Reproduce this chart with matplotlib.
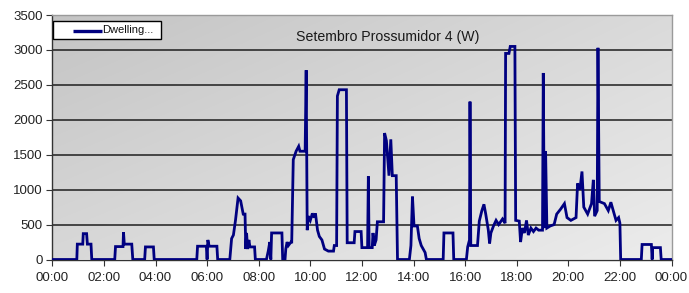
import numpy as np
import matplotlib
matplotlib.use("Agg")
import matplotlib.pyplot as plt
from matplotlib.patches import Rectangle

# ---- data (hours of day, watts) ----
hours = [0.0, 0.95, 0.97, 1.18, 1.2, 1.33, 1.36, 1.5, 1.53, 2.42, 2.45, 2.74, 2.76, 2.79, 3.08, 3.12,
         3.58, 3.61, 3.92, 3.95, 5.6, 5.63, 5.97, 6.0, 6.03, 6.08, 6.38, 6.41, 6.88, 6.95, 7.02, 7.1,
         7.2, 7.3, 7.4, 7.47, 7.5, 7.53, 7.57, 7.62, 7.66, 7.84, 7.87, 8.3, 8.37, 8.43, 8.47, 8.5,
         8.9, 8.93, 9.02, 9.05, 9.1, 9.15, 9.25, 9.28, 9.34, 9.45, 9.55, 9.6, 9.8, 9.84, 9.88, 9.92,
         10.0, 10.08, 10.15, 10.2, 10.28, 10.35, 10.45, 10.55, 10.7, 10.9, 10.93, 11.02, 11.05, 11.12,
         11.4, 11.43, 11.7, 11.73, 11.97, 12.0, 12.22, 12.25, 12.28, 12.4, 12.43, 12.48, 12.55, 12.6,
         12.84, 12.88, 12.95, 13.0, 13.05, 13.12, 13.18, 13.33, 13.38, 13.84, 13.9, 13.96, 14.02, 14.15,
         14.22, 14.3, 14.45, 14.5, 15.15, 15.18, 15.53, 15.56, 16.05, 16.1, 16.17, 16.19, 16.22, 16.48,
         16.55, 16.65, 16.73, 16.8, 16.9, 16.95, 17.0, 17.1, 17.2, 17.3, 17.45, 17.55, 17.57, 17.7,
         17.75, 17.93, 17.96, 18.1, 18.15, 18.22, 18.3, 18.38, 18.45, 18.55, 18.65, 18.75, 18.85, 19.0,
         19.03, 19.07, 19.12, 19.17, 19.3, 19.45, 19.55, 19.7, 19.85, 19.95, 20.1, 20.3, 20.36, 20.45,
         20.53, 20.6, 20.75, 20.9, 20.97, 21.02, 21.12, 21.15, 21.2, 21.4, 21.55, 21.65, 21.78, 21.85,
         21.95, 22.0, 22.03, 22.83, 22.86, 23.22, 23.25, 23.27, 23.57, 23.6, 24.0]
watts = [0, 0, 220, 220, 370, 370, 220, 220, 0, 0, 185, 185, 390, 220, 220, 0,
         0, 180, 180, 0, 0, 190, 190, 0, 280, 190, 190, 0, 0, 300, 350, 560,
         880, 840, 650, 650, 150, 380, 150, 280, 180, 180, 0, 0, 120, 250, 0, 380,
         380, 0, 0, 150, 250, 200, 250, 250, 1430, 1550, 1620, 1550, 1550, 2710, 420, 620,
         560, 660, 600, 660, 420, 330, 280, 150, 120, 120, 200, 200, 2340, 2430,
         2430, 240, 240, 400, 400, 170, 170, 1190, 170, 170, 380, 200, 280, 540,
         540, 1810, 1700, 1450, 1200, 1720, 1200, 1200, 0, 0, 200, 900, 480, 480,
         300, 200, 100, 0, 0, 380, 380, 0, 0, 180, 280, 2260, 200, 200,
         550, 700, 790, 650, 420, 230, 380, 480, 560, 500, 580, 520, 2950, 2950,
         3050, 3050, 560, 550, 250, 450, 380, 560, 350, 450, 400, 450, 420, 420,
         2670, 450, 1550, 450, 480, 500, 650, 720, 800, 600, 560, 600, 1090, 1000,
         1260, 750, 650, 800, 1140, 620, 700, 3030, 830, 800, 700, 820, 650, 560,
         600, 520, 0, 0, 215, 215, 0, 170, 170, 0, 0]

tick_hours = list(range(0, 25, 2))
tick_labels = ["00:00", "02:00", "04:00", "06:00", "08:00", "10:00", "12:00",
               "14:00", "16:00", "18:00", "20:00", "22:00", "00:00"]
y_ticks = [0, 500, 1000, 1500, 2000, 2500, 3000, 3500]
title = "Setembro Prossumidor 4 (W)"
series_name = "Dwelling..."

plt.rcParams['font.family'] = ['Liberation Sans', 'DejaVu Sans']

W, H = 689, 293
fig = plt.figure(figsize=(W / 100, H / 100), dpi=100)
fig.patch.set_facecolor('white')
x0, x1 = 52.3, 671.5
ytop, ybot = 15.0, 259.5
ax = fig.add_axes([x0 / W, (H - ybot) / H, (x1 - x0) / W, (ybot - ytop) / H])

# gradient background
gx, gy = np.meshgrid(np.linspace(0, 1, 200), np.linspace(0, 1, 100))
tl, tr, bl, br = 196, 218, 216, 236
g = (tl * (1 - gx) * (1 - gy) + tr * gx * (1 - gy) + bl * (1 - gx) * gy + br * gx * gy) / 255.0
img = np.dstack([g, g, g])
ax.imshow(img, extent=[0, 1, 0, 1], transform=ax.transAxes, aspect='auto', zorder=0,
          interpolation='bilinear')

ax.set_xlim(0, 24)
ax.set_ylim(0, 3500)

for yv in y_ticks[1:-1]:
    ax.axhline(yv, color='#1e1e1e', lw=1.1, zorder=1)

ax.plot(hours, watts, color='#000080', lw=2.0, zorder=3, solid_joinstyle='miter')

ax.set_xticks(tick_hours)
ax.set_xticklabels(tick_labels)
ax.set_yticks(y_ticks)
ax.tick_params(axis='both', direction='out', length=4, width=0.8, color='#333333',
               labelsize=9.5, labelcolor='#222222')
ax.tick_params(axis='x', pad=5)
ax.tick_params(axis='y', pad=3)

for s in ['top', 'right']:
    ax.spines[s].set_color('#9a9a9a')
    ax.spines[s].set_linewidth(1.0)
ax.spines['left'].set_color('#333333')
ax.spines['left'].set_linewidth(1.0)
ax.spines['bottom'].set_color('#333333')
ax.spines['bottom'].set_linewidth(1.0)

# title inside plot
ax.text((388 - x0) / (x1 - x0), (ybot - 37.5) / (ybot - ytop), title, transform=ax.transAxes,
        ha='center', va='center', fontsize=10.2, color='#1a1a1a', zorder=5)

# legend box (top-left)
def axx(px):
    return (px - x0) / (x1 - x0)

def axy(py):
    return (ybot - py) / (ybot - ytop)

ax.add_patch(Rectangle((axx(53.5), axy(39)), axx(161) - axx(53.5), axy(21) - axy(39),
                       transform=ax.transAxes, facecolor='white', edgecolor='black',
                       lw=1.0, zorder=6))
ax.plot([axx(72.7), axx(101.7)], [axy(30.5), axy(30.5)], transform=ax.transAxes,
        color='#000080', lw=2.4, zorder=7, solid_capstyle='butt')
ax.text(axx(102.5), axy(30), series_name, transform=ax.transAxes, ha='left', va='center',
        fontsize=8, color='#111111', zorder=7)

fig.savefig('out.png', dpi=100)
